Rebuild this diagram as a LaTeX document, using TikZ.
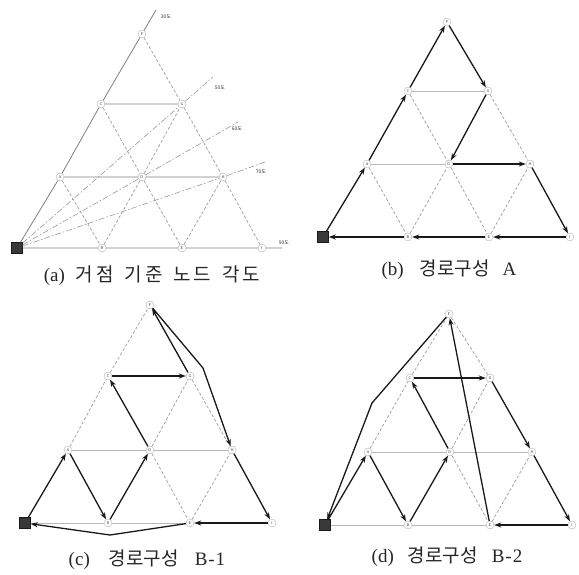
\documentclass[tikz,border=0pt]{standalone}
\usepackage{fontspec}
\setmainfont{Liberation Serif}
\newfontfamily\kr{Noto Sans CJK KR}
\newfontfamily\krs[LetterSpace=15]{Noto Sans CJK KR}
\usetikzlibrary{arrows.meta}
\begin{document}
\begin{tikzpicture}[x=1pt,y=-1pt,
 nd/.style={circle,draw=black!30,fill=white,inner sep=0pt,minimum size=8pt,font=\sffamily\fontsize{4}{4}\selectfont,text=black!75},
 depot/.style={rectangle,fill=black!78,draw=black!90,minimum size=11pt,inner sep=0pt},
 sl/.style={draw=black!50,line width=0.8pt},
 sll/.style={draw=black!28,line width=0.8pt},
 ds/.style={draw=black!38,line width=0.7pt,dash pattern=on 3pt off 2pt},
 dd/.style={draw=black!40,line width=0.6pt,dash pattern=on 6pt off 2pt on 1.5pt off 2pt},
 ar/.style={draw=black!90,line width=1.3pt,-{Stealth[length=7pt,width=5pt]}},
 captn/.style={font=\fontsize{19}{19}\selectfont,text=black!85},
 ang/.style={font=\kr\fontsize{5}{5}\selectfont,text=black!80}]
\fill[white] (0,0) rectangle (579,574);

% ---------------- panel (a)
\node[depot] (aS) at (17,248) {};
\node[nd] (aA) at (60,177) {A};
\node[nd] (aB) at (102,248) {B};
\node[nd] (aC) at (101,104) {C};
\node[nd] (aD) at (142,177) {D};
\node[nd] (aE) at (182,248) {E};
\node[nd] (aF) at (142,34) {F};
\node[nd] (aG) at (182,104) {G};
\node[nd] (aH) at (223,177) {H};
\node[nd] (aI) at (262,248) {I};
\coordinate (a30) at (156,10);
\coordinate (a50) at (213,77);
\coordinate (a60) at (238,122);
\coordinate (a70) at (265,162);
\coordinate (a90) at (282,248);
\draw[sl] (aS)--(aA) (aA)--(aC) (aC)--(aF) (aF)--(a30)
          (aC)--(aG) (aA)--(aD) (aD)--(aH)
          (aS)--(aB) (aB)--(aE) (aE)--(aI) (aI)--(a90);
\draw[ds] (aF)--(aG) (aG)--(aH) (aH)--(aI) (aC)--(aD) (aD)--(aE)
          (aA)--(aB) (aB)--(aD) (aD)--(aG) (aE)--(aH);
\draw[dd] (aS)--(aG) (aG)--(a50) (aS)--(aD) (aD)--(a60) (aS)--(aH) (aH)--(a70);
\node[ang] (t30) at (166,17) {30도};
\node[ang] (t50) at (220,88) {50도};
\node[ang] (t60) at (237,129) {60도};
\node[ang] (t70) at (261,172) {70도};
\node[ang] (t90) at (284,243) {90도};
\node[captn] (capa) at (152,276) {(a)\hspace{11pt}{\krs 거점}\hspace{11pt}{\krs 기준}\hspace{11pt}{\krs 노드}\hspace{11pt}{\krs 각도}};

% ---------------- panel (b)
\node[depot] (bS) at (323,237) {};
\node[nd] (bA) at (367,164) {A};
\node[nd] (bB) at (408,237) {B};
\node[nd] (bC) at (408,91) {C};
\node[nd] (bD) at (449,164) {D};
\node[nd] (bE) at (489,237) {E};
\node[nd] (bF) at (447,22) {F};
\node[nd] (bG) at (488,91) {G};
\node[nd] (bH) at (530,164) {H};
\node[nd] (bI) at (570,237) {I};
\draw[sll] (bC)--(bG) (bA)--(bD);
\draw[ds] (bC)--(bD) (bD)--(bE) (bA)--(bB) (bB)--(bD) (bG)--(bH) (bE)--(bH);
\draw[ar] (bS)--(bA);
\draw[ar] (bA)--(bC);
\draw[ar] (bC)--(bF);
\draw[ar] (bF)--(bG);
\draw[ar] (bG)--(bD);
\draw[ar] (bD)--(bH);
\draw[ar] (bH)--(bI);
\draw[ar] (bI)--(bE);
\draw[ar] (bE)--(bB);
\draw[ar] (bB)--(bS);
\node[captn] (capb) at (449,270) {(b)\hspace{16pt}{\kr 경로구성}\hspace{13pt}A};

% ---------------- panel (c)
\node[depot] (cS) at (25,523) {};
\node[nd] (cA) at (68,450) {A};
\node[nd] (cB) at (108,523) {B};
\node[nd] (cC) at (108,376) {C};
\node[nd] (cD) at (150,450) {D};
\node[nd] (cE) at (190,523) {E};
\node[nd] (cF) at (150,305) {F};
\node[nd] (cG) at (190,376) {G};
\node[nd] (cH) at (232,450) {H};
\node[nd] (cI) at (272,523) {I};
\coordinate (cK1) at (203,368);
\coordinate (cK2) at (110,535);
\draw[sll] (cS)--(cB) (cB)--(cE) (cA)--(cD) (cD)--(cH);
\draw[ds] (cA)--(cC) (cC)--(cF) (cF)--(cG) (cG)--(cH) (cD)--(cE) (cD)--(cG) (cE)--(cH);
\draw[ar] (cS)--(cA);
\draw[ar] (cA)--(cB);
\draw[ar] (cB)--(cD);
\draw[ar] (cD)--(cC);
\draw[ar] (cC)--(cG);
\draw[ar] (cG)--(cF);
\draw[ar] (cF)--(cK1)--(cH);
\draw[ar] (cH)--(cI);
\draw[ar] (cI)--(cE);
\draw[ar] (cE)--(cK2)--(cS);
\node[captn] (capc) at (147,560) {(c)\hspace{19pt}{\kr 경로구성}\hspace{16pt}B\kern1pt-\kern1pt1};

% ---------------- panel (d)
\node[depot] (dS) at (325,525) {};
\node[nd] (dA) at (368,452) {A};
\node[nd] (dB) at (408,525) {B};
\node[nd] (dC) at (410,378) {C};
\node[nd] (dD) at (450,452) {D};
\node[nd] (dE) at (490,525) {E};
\node[nd] (dF) at (449,314) {F};
\node[nd] (dG) at (490,378) {G};
\node[nd] (dH) at (532,452) {H};
\node[nd] (dI) at (572,525) {I};
\coordinate (dK1) at (372,403);
\draw[sll] (dS)--(dB) (dB)--(dE) (dA)--(dD) (dD)--(dH);
\draw[ds] (dA)--(dC) (dC)--(dF) (dF)--(dG) (dD)--(dE) (dD)--(dG) (dE)--(dH);
\draw[ar] (dS)--(dA);
\draw[ar] (dA)--(dB);
\draw[ar] (dB)--(dD);
\draw[ar] (dD)--(dC);
\draw[ar] (dC)--(dG);
\draw[ar] (dG)--(dH);
\draw[ar] (dH)--(dI);
\draw[ar] (dI)--(dE);
\draw[ar] (dE)--(dF);
\draw[ar] (dF)--(dK1)--(dS);
\node[captn] (capd) at (447,557) {(d)\hspace{14pt}{\kr 경로구성}\hspace{14pt}B\kern1pt-\kern1pt2};
\end{tikzpicture}
\end{document}
